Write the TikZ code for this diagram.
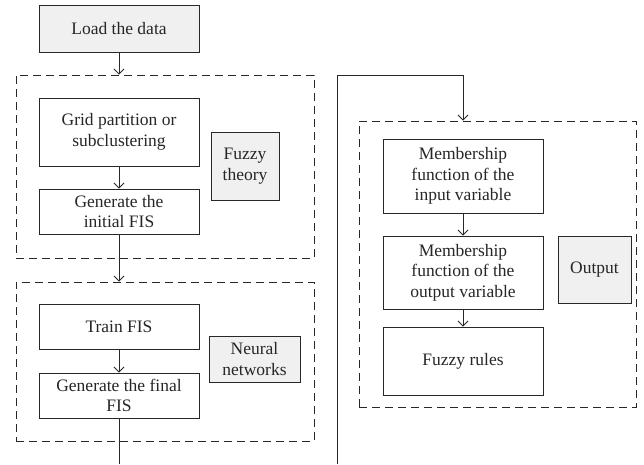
\documentclass[tikz,border=0pt]{standalone}
\usepackage{fontspec}
\setmainfont{Liberation Serif}
\usetikzlibrary{arrows.meta}
\definecolor{boxgray}{RGB}{240,240,240}
\definecolor{linegray}{RGB}{40,40,40}
\tikzset{
  every node/.style={font=\fontsize{17.5}{20.5}\selectfont, text=black!85},
  stepbox/.style={draw=linegray, line width=0.9pt, fill=white, align=center, inner sep=2pt, minimum width=160pt},
  graybox/.style={draw=linegray, line width=0.9pt, fill=boxgray, align=center, inner sep=2pt},
  groupbox/.style={draw=linegray, line width=0.9pt, dash pattern=on 8pt off 5pt, inner sep=0pt},
  conn/.style={draw=linegray, line width=0.9pt},
  arr/.style={conn, -{Straight Barb[length=5pt,width=10pt,line width=0.9pt]}}
}
\begin{document}
\begin{tikzpicture}[x=1pt,y=-1pt]
\useasboundingbox (0,0) rectangle (644,464);
% group boxes
\node[groupbox, minimum width=298pt, minimum height=183pt] (d1) at (165,166.5) {};
\node[groupbox, minimum width=298pt, minimum height=159pt] (d2) at (165,361.5) {};
\node[groupbox, minimum width=277pt, minimum height=286pt] (d3) at (497.5,264) {};
% left column
\node[graybox, minimum width=160pt, minimum height=47pt] (load) at (119,28.5) {Load the data};
\node[stepbox, minimum height=68pt] (grid) at (119,132) {Grid partition or\\subclustering};
\node[stepbox, minimum height=45pt] (gen1) at (119,211.5) {Generate the\\initial FIS};
\node[graybox, minimum width=68pt, minimum height=68pt] (fuzzy) at (245,166) {Fuzzy\\theory};
\node[stepbox, minimum height=45pt] (train) at (119,326.5) {Train FIS};
\node[stepbox, minimum height=45pt] (gen2) at (119,395.5) {Generate the final\\FIS};
\node[graybox, minimum width=91pt, minimum height=46pt] (neural) at (254.5,359) {Neural\\networks};
% right column
\node[stepbox, minimum height=74pt] (mi) at (463,176) {Membership\\function of the\\input variable};
\node[stepbox, minimum height=73pt] (mo) at (463,272.5) {Membership\\function of the\\output variable};
\node[graybox, minimum width=73pt, minimum height=67pt] (outp) at (594.5,269.5) {Output};
\node[stepbox, minimum height=68pt] (rules) at (463,361) {Fuzzy rules};
% connectors
\draw[arr] (load.south) -- (load.south |- d1.north);
\draw[arr] (grid) -- (gen1);
\draw[arr] (gen1.south) -- (gen1.south |- d2.north);
\draw[arr] (train) -- (gen2);
\coordinate (b1) at (119,464);
\draw[conn] (gen2.south) -- (b1);
\coordinate (b2) at (337,464);
\coordinate (t2) at (337,75);
\draw[arr] (b2) -- (t2) -| (mi.north |- d3.north);
\draw[arr] (mi) -- (mo);
\draw[arr] (mo) -- (rules);
\end{tikzpicture}
\end{document}
